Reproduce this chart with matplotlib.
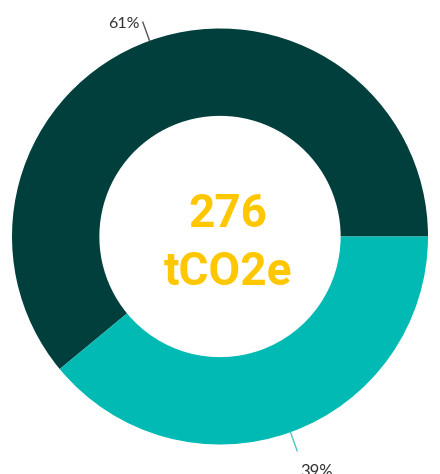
import numpy as np
import matplotlib
matplotlib.use("Agg")
import matplotlib.pyplot as plt

categories = ["A", "B"]
values = [61, 39]
labels = ["61%", "39%"]
colors = ["#013f3c", "#00bab3"]
line_colors = ["#555555", "#4fc6bf"]
center_lines = ["276", "tCO2e"]

fig = plt.figure(figsize=(4.4, 4.74), dpi=100)
ax = fig.add_axes([0, 0, 1, 1])
wedges, _ = ax.pie(values, colors=colors, startangle=0, counterclock=True,
                   radius=1.0, wedgeprops=dict(width=0.42, edgecolor="none"))

px = 1 / 208
total = sum(values)
cum = 0
for v, lab, lc in zip(values, labels, line_colors):
    mid = np.deg2rad((cum + v / 2) / total * 360)
    cum += v
    x0, y0 = np.cos(mid), np.sin(mid)
    xe, ye = x0 * 1.095, y0 * 1.095
    ax.plot([x0, xe], [y0, ye], color=lc, lw=1.0)
    if y0 > 0:
        ax.text(xe - 3 * px, ye - 6 * px, lab, ha="right", va="baseline",
                fontsize=11.5, color="#333333", family="Lato")
    else:
        ax.text(xe + 3 * px, ye - 26 * px, lab, ha="left", va="baseline",
                fontsize=12, color="#333333", family="Lato")

ax.text(7.5 * px, 9.5 * px, center_lines[0], ha="center", va="baseline",
        fontsize=33, fontweight="bold", color="#ffc700", family="Roboto")
ax.text(7.5 * px, -48.5 * px, center_lines[1], ha="center", va="baseline",
        fontsize=33, fontweight="bold", color="#ffc700", family="Roboto")

ax.set_aspect("auto")
ax.set_xlim(-220 * px, 220 * px)
ax.set_ylim(-237.5 * px, 236.5 * px)
ax.axis("off")
fig.savefig("out.png", dpi=100)
